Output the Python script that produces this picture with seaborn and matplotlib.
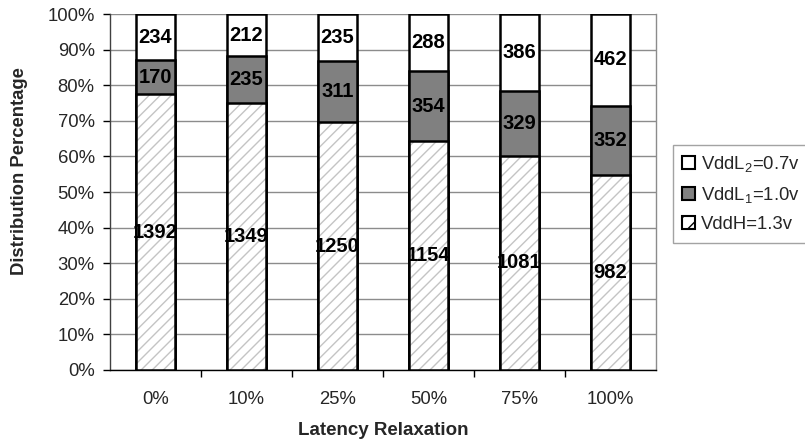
import numpy as np
import matplotlib
matplotlib.use("Agg")
import matplotlib.pyplot as plt
from matplotlib.patches import Patch
from matplotlib.ticker import FixedLocator, PercentFormatter
import seaborn as sns

# Gate counts per supply voltage at each latency relaxation level
categories = ["0%", "10%", "25%", "50%", "75%", "100%"]
vddh = [1392, 1349, 1250, 1154, 1081, 982]
vddl1 = [170, 235, 311, 354, 329, 352]
vddl2 = [234, 212, 235, 288, 386, 462]
legend_labels = [r"$\mathregular{VddL_2}$=0.7v", r"$\mathregular{VddL_1}$=1.0v", "VddH=1.3v"]

sns.set_theme(style="white")
plt.rcParams["font.family"] = ["Liberation Sans", "DejaVu Sans"]
plt.rcParams["mathtext.fontset"] = "custom"
plt.rcParams["mathtext.rm"] = "Liberation Sans"
plt.rcParams["hatch.linewidth"] = 1.0

h = np.array(vddh, float)
l1 = np.array(vddl1, float)
l2 = np.array(vddl2, float)
tot = h + l1 + l2
p_h = h / tot * 100
p_l1 = l1 / tot * 100
p_l2 = l2 / tot * 100
cum_h = p_h
cum_l1 = p_h + p_l1
cum_l2 = cum_l1 + p_l2

fig = plt.figure(figsize=(8.05, 4.42), dpi=100)
ax = fig.add_axes([0.1366, 0.1629, 0.6784, 0.8054])

bw = 0.43
edge_lw = 1.8
# cumulative bars drawn back to front
sns.barplot(x=categories, y=cum_l2, color="white", saturation=1, width=bw,
            edgecolor="black", linewidth=edge_lw, errorbar=None, ax=ax, zorder=3)
sns.barplot(x=categories, y=cum_l1, color="#808080", saturation=1, width=bw,
            edgecolor="black", linewidth=edge_lw, errorbar=None, ax=ax, zorder=3)
sns.barplot(x=categories, y=cum_h, color="white", saturation=1, width=bw,
            edgecolor="#c4c4c4", linewidth=0, hatch="///", errorbar=None, ax=ax, zorder=3)
sns.barplot(x=categories, y=cum_h, fill=False, color="black", width=bw,
            linewidth=edge_lw, errorbar=None, ax=ax, zorder=4)

# segment value labels
for i in range(len(categories)):
    for val, lo, pct in [(vddh[i], 0, p_h[i]), (vddl1[i], cum_h[i], p_l1[i]),
                         (vddl2[i], cum_l1[i], p_l2[i])]:
        ax.text(i, lo + pct / 2, str(val), ha="center", va="center",
                fontsize=14.5, fontweight="bold", color="black", zorder=5)

ax.set_xlim(-0.5, len(categories) - 0.5)
ax.set_ylim(0, 100)
ax.yaxis.set_major_locator(FixedLocator(np.arange(0, 101, 10)))
ax.yaxis.set_major_formatter(PercentFormatter(decimals=0))
ax.yaxis.grid(True, color="#8c8c8c", linewidth=1.0, zorder=0)
ax.set_axisbelow(True)

ax.xaxis.set_minor_locator(FixedLocator(np.arange(0.5, len(categories) - 0.5, 1.0)))
ax.tick_params(axis="x", which="major", length=0, pad=15, labelsize=13.3)
ax.tick_params(axis="x", which="minor", length=5, width=1, color="black", direction="out", bottom=True)
ax.tick_params(axis="y", which="major", length=5, width=1, color="black", direction="out",
               left=True, pad=6, labelsize=13.3)

ax.spines["top"].set_visible(False)
ax.spines["right"].set_color("#8c8c8c")
ax.spines["right"].set_linewidth(1.0)
ax.spines["left"].set_color("#404040")
ax.spines["left"].set_linewidth(1.0)
ax.spines["bottom"].set_color("black")
ax.spines["bottom"].set_linewidth(1.0)

ax.set_xlabel("Latency Relaxation", fontsize=13.5, fontweight="bold")
ax.set_ylabel("Distribution Percentage", fontsize=13.3, fontweight="bold")
ax.xaxis.set_label_coords(0.5, -0.146)
ax.yaxis.set_label_coords(-0.151, 0.56)

handles = [
    Patch(facecolor="white", edgecolor="black", linewidth=1.5),
    Patch(facecolor="#808080", edgecolor="black", linewidth=1.5),
    Patch(facecolor="white", edgecolor="black", linewidth=1.5, hatch="//"),
]
leg = fig.legend(handles, legend_labels, loc="upper left",
                 bbox_to_anchor=(0.836, 0.672), frameon=True, fancybox=False,
                 fontsize=13.3, handlelength=0.7, handleheight=0.7,
                 handletextpad=0.3, labelspacing=0.6, borderpad=0.5,
                 borderaxespad=0)
leg.get_frame().set_edgecolor("#8c8c8c")
leg.get_frame().set_linewidth(1.0)

fig.savefig("out.png", dpi=100)
